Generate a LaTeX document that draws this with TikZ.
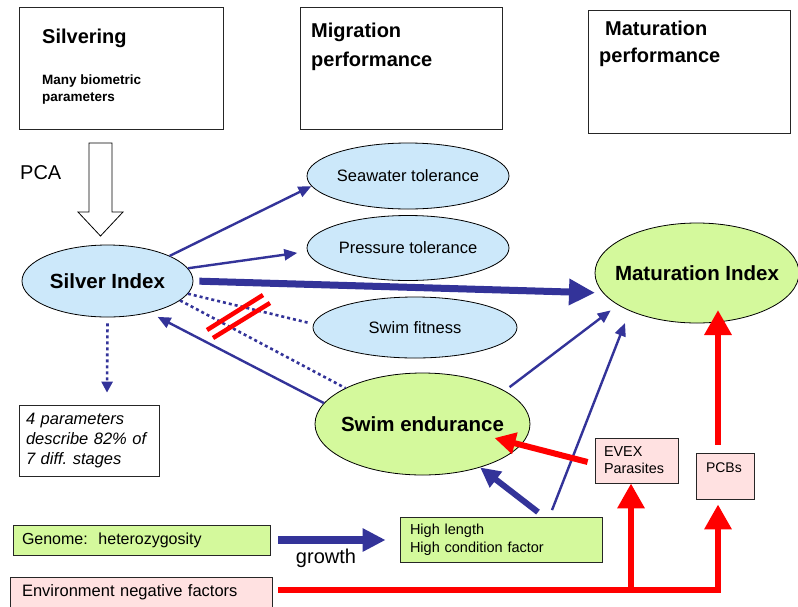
\documentclass[tikz,border=0pt]{standalone}
\usepackage{fontspec}
\setmainfont{Liberation Sans}
\usetikzlibrary{shapes.geometric,arrows.meta}

\definecolor{arrowblue}{HTML}{333399}
\definecolor{ellblue}{HTML}{CCE8FA}
\definecolor{ellgreen}{HTML}{D4F99C}
\definecolor{boxpink}{HTML}{FFE1E1}

\begin{document}
\frenchspacing
\begin{tikzpicture}[x=1pt, y=-1pt,
  frame/.style={draw=black!85, line width=0.8pt, inner sep=0pt},
  oval/.style={ellipse, draw=black, line width=0.8pt, inner sep=0pt},
  lbl/.style={inner sep=0pt, anchor=base west},
  blueln/.style={draw=arrowblue, line width=2.4pt, -{Triangle[length=13pt,width=11pt]}},
  bluethick/.style={draw=arrowblue, line width=7pt, -{Triangle[length=26pt,width=25pt]}},
  bluedot/.style={draw=arrowblue, line width=2.6pt, dash pattern=on 3pt off 3pt},
  redarrow/.style={draw=red, line width=6.5pt, -{Triangle[length=25pt,width=26pt]}},
  ]
  \path[use as bounding box, fill=white] (0,0) rectangle (798,606);

  % headings
  \node[frame, minimum width=204pt, minimum height=122pt] (silv) at (121,68) {};
  \node[frame, minimum width=202pt, minimum height=122pt] (mig) at (401,68) {};
  \node[frame, minimum width=202pt, minimum height=123pt] (matp) at (689,71.5) {};
  \node[lbl, font=\fontsize{20}{24}\selectfont\bfseries] (silvT) at (42,43) {Silvering};
  \node[lbl, align=left, font=\fontsize{13.5}{17}\selectfont\bfseries] (silvS) at (42,101) {Many biometric\\parameters};
  \node[lbl, align=left, font=\fontsize{20}{29}\selectfont\bfseries] (migT) at (311,66) {Migration\\performance};
  \node[lbl, align=left, font=\fontsize{20}{27}\selectfont\bfseries] (matT) at (599,62) {\hspace*{6pt}Maturation\\performance};
  \node[lbl, font=\fontsize{20}{24}\selectfont] (pca) at (20,179) {PCA};
  \draw[line width=0.8pt, fill=white] (89,143) -- (112,143) -- (112,212) -- (123,212) -- (100.5,236) -- (78,212) -- (89,212) -- cycle;

  % indices and performances
  \node[oval, fill=ellblue, minimum width=171pt, minimum height=72pt, font=\fontsize{20.5}{24}\selectfont\bfseries] (si) at (107.5,281) {\makebox[0pt]{Silver Index}};
  \node[oval, fill=ellblue, minimum width=202pt, minimum height=66pt, font=\fontsize{16.5}{20}\selectfont] (sea) at (408,176) {\makebox[0pt]{Seawater tolerance}};
  \node[oval, fill=ellblue, minimum width=202pt, minimum height=65pt, font=\fontsize{16.5}{20}\selectfont] (pres) at (408,248) {\makebox[0pt]{Pressure tolerance}};
  \node[oval, fill=ellblue, minimum width=204pt, minimum height=61pt, font=\fontsize{16.5}{20}\selectfont] (sf) at (415,327.5) {\makebox[0pt]{Swim fitness}};
  \node[oval, fill=ellgreen, minimum width=204pt, minimum height=100pt, font=\fontsize{20.5}{24}\selectfont\bfseries] (mat) at (697,273) {\makebox[0pt]{Maturation Index}};
  \node[oval, fill=ellgreen, minimum width=215pt, minimum height=102pt, font=\fontsize{20.5}{24}\selectfont\bfseries] (se) at (422.5,424) {\makebox[0pt]{Swim endurance}};

  % factor boxes
  \node[frame, align=left, text width=126pt, inner xsep=7pt, minimum height=71pt, font=\fontsize{16.5}{20}\selectfont\itshape] (par) at (89,440.5) {4 parameters\\describe 82\% of\\7 diff. stages};
  \node[frame, fill=ellgreen, align=left, text width=239pt, inner xsep=9pt, minimum height=30pt, font=\fontsize{16}{19}\selectfont] (gen) at (141.5,540) {Genome:\ \ heterozygosity};
  \node[frame, fill=boxpink, align=left, text width=238pt, inner xsep=12pt, minimum height=30pt, font=\fontsize{16.5}{19}\selectfont] (env) at (141,592) {Environment negative factors};
  \node[frame, fill=ellgreen, align=left, text width=182pt, inner xsep=10pt, minimum height=45pt, font=\fontsize{14.5}{18}\selectfont] (hl) at (501,540) {High length\\High condition factor};
  \node[frame, fill=boxpink, align=left, text width=65pt, inner xsep=9pt, minimum height=45pt, font=\fontsize{14.4}{17}\selectfont] (evex) at (636.5,460.5) {EVEX\\Parasites};
  \node[frame, fill=boxpink, align=left, text width=38pt, inner xsep=10pt, text height=19pt, text depth=27pt, font=\fontsize{14}{17}\selectfont] (pcb) at (725,476) {PCBs};

  % blue links
  \draw[blueln] (si.22) -- (sea.186);
  \draw[blueln, shorten >=10pt] (si.9) -- (pres.182);
  \draw[bluethick, shorten <=6pt, shorten >=8pt] (si.0) -- (mat.192);
  \draw[bluedot, shorten >=5pt] (si.351) -- (sf.178);
  \draw[bluedot] (si.345) -- (se.155);
  \draw[blueln, shorten >=9pt] (se.168) -- (si.323);
  \draw[blueln, shorten <=6pt, shorten >=9pt] (se.22) -- (mat.202);
  \draw[blueln] ([xshift=51pt,yshift=7pt]hl.north) -- ([xshift=-72pt,yshift=-50pt]mat.center);
  \draw[draw=arrowblue, line width=6pt, -{Triangle[length=20pt,width=19pt]}] ([xshift=37pt,yshift=5pt]hl.north) -- (se.323);
  \draw[bluedot, -{Triangle[length=11pt,width=11pt]}] ([yshift=-6pt]si.south) -- ([xshift=18pt,yshift=12pt]par.north);
  \draw[draw=arrowblue, line width=8pt, -{Triangle[length=23pt,width=22pt]}, shorten <=8pt, shorten >=14pt] (gen.east) -- (hl.west);
  \node[inner sep=0pt, anchor=base, font=\fontsize{20}{24}\selectfont] (grow) at (326,563) {growth};

  % crossed out
  \draw[red, line width=4.5pt] (207,330) -- (263,295);
  \draw[red, line width=4.5pt] (213,338) -- (270,303);

  % red links
  \coordinate (envout) at ([xshift=6pt,yshift=2pt]env.east);
  \coordinate (evexin) at ([xshift=-5.5pt]evex.south);
  \draw[redarrow] (envout) -| ([xshift=-7pt,yshift=-5pt]pcb.south);
  \draw[redarrow] (evexin |- envout) -- (evexin);
  \draw[redarrow] ([xshift=-7pt,yshift=8pt]pcb.north) -- ([xshift=21pt,yshift=-37pt]mat.center);
  \draw[draw=red, line width=6pt, -{Triangle[length=21pt,width=21pt]}] ([xshift=-7pt,yshift=-1.5pt]evex.west) -- ([xshift=72pt,yshift=-14pt]se.center);
\end{tikzpicture}
\end{document}
